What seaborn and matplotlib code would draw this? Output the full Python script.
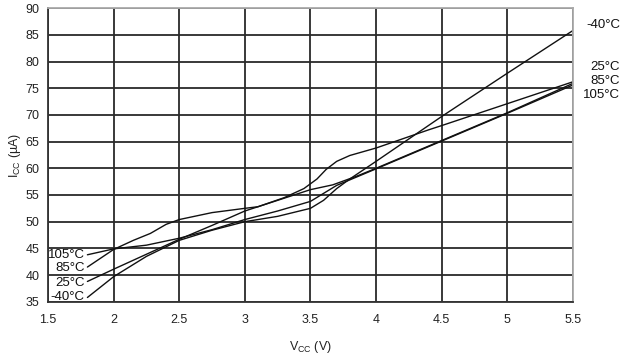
import pandas as pd
import seaborn as sns
import matplotlib.pyplot as plt

# values
vcc_m40 = [1.8, 2.0, 2.25, 2.5, 2.75, 3.0, 3.25, 3.5, 3.6, 3.7, 3.8, 4.0, 4.5, 5.0, 5.5]
icc_m40 = [35.8, 39.7, 43.5, 46.5, 48.4, 50.0, 51.0, 52.5, 54.0, 56.2, 58.0, 61.3, 69.7, 77.8, 85.8]

vcc_25 = [1.8, 2.0, 2.25, 2.5, 2.75, 3.0, 3.25, 3.5, 3.67, 3.85, 4.0, 4.5, 5.0, 5.5]
icc_25 = [38.8, 41.1, 43.9, 46.7, 49.3, 52.0, 54.0, 56.0, 56.9, 58.5, 60.0, 65.2, 70.4, 75.9]

vcc_85 = [1.8, 2.0, 2.15, 2.28, 2.4, 2.5, 2.75, 3.0, 3.1, 3.3, 3.45, 3.55, 3.62, 3.7, 3.8, 4.0, 4.4, 4.5, 5.0, 5.5]
icc_85 = [41.5, 44.8, 46.5, 47.8, 49.5, 50.4, 51.7, 52.5, 52.8, 54.5, 56.2, 58.0, 59.8, 61.3, 62.4, 63.8, 67.2, 68.0, 72.1, 76.2]

vcc_105 = [1.8, 2.0, 2.25, 2.5, 2.75, 3.0, 3.25, 3.5, 3.6, 3.7, 4.0, 4.5, 5.0, 5.5]
icc_105 = [43.8, 44.9, 45.6, 46.9, 48.5, 50.4, 52.0, 53.8, 55.3, 56.8, 59.9, 65.1, 70.3, 75.6]

temps = ["-40°C", "25°C", "85°C", "105°C"]
x_ticks = [1.5, 2, 2.5, 3, 3.5, 4, 4.5, 5, 5.5]
x_labels = ["1.5", "2", "2.5", "3", "3.5", "4", "4.5", "5", "5.5"]
y_ticks = [35, 40, 45, 50, 55, 60, 65, 70, 75, 80, 85, 90]

df = pd.concat([
    pd.DataFrame({"vcc": vcc_m40, "icc": icc_m40, "temp": "-40°C"}),
    pd.DataFrame({"vcc": vcc_25, "icc": icc_25, "temp": "25°C"}),
    pd.DataFrame({"vcc": vcc_85, "icc": icc_85, "temp": "85°C"}),
    pd.DataFrame({"vcc": vcc_105, "icc": icc_105, "temp": "105°C"}),
])

sns.set_theme(style="white")
plt.rcParams["font.family"] = ["Liberation Sans", "DejaVu Sans"]

fig = plt.figure(figsize=(6.24, 3.55), dpi=100)
ax = fig.add_axes([0.077, 0.150, 0.841, 0.827])

sns.lineplot(data=df, x="vcc", y="icc", hue="temp", hue_order=temps,
             palette=["#111111"] * 4, linewidth=1.0, legend=False,
             sort=False, estimator=None, ax=ax)

ax.set_xlim(1.5, 5.5)
ax.set_ylim(35, 90)
ax.set_xticks(x_ticks)
ax.set_xticklabels(x_labels)
ax.set_yticks(y_ticks)
ax.grid(True, color="#2a2a2a", linewidth=1.3)
ax.set_axisbelow(True)
ax.tick_params(axis="both", direction="out", length=4, width=1.2,
               color="#333333", labelsize=9, labelcolor="#222222", pad=5)
ax.tick_params(axis="y", pad=2)
for side in ["left", "bottom"]:
    ax.spines[side].set_color("#333333")
    ax.spines[side].set_linewidth(1.3)
for side in ["top", "right"]:
    ax.spines[side].set_color("#aaaaaa")
    ax.spines[side].set_linewidth(1.3)

ax.set_xlabel("V$_{\\mathregular{CC}}$ (V)", fontsize=9, color="#222222", labelpad=9)
ax.set_ylabel("I$_{\\mathregular{CC}}$ (µA)", fontsize=9, color="#222222", labelpad=2)

# curve labels, left end
left_pos = [35.9, 38.6, 41.3, 43.8]
for t, yv in zip(temps, left_pos):
    ax.text(1.78, yv, t, ha="right", va="center", fontsize=9.5, color="#111111")

# curve labels, right end
right_pos = [86.9, 78.9, 76.4, 73.8]
for t, yv in zip(temps, right_pos):
    ax.text(5.86, yv, t, ha="right", va="center", fontsize=9.5,
            color="#111111", clip_on=False)

fig.savefig("out.png", dpi=100)
